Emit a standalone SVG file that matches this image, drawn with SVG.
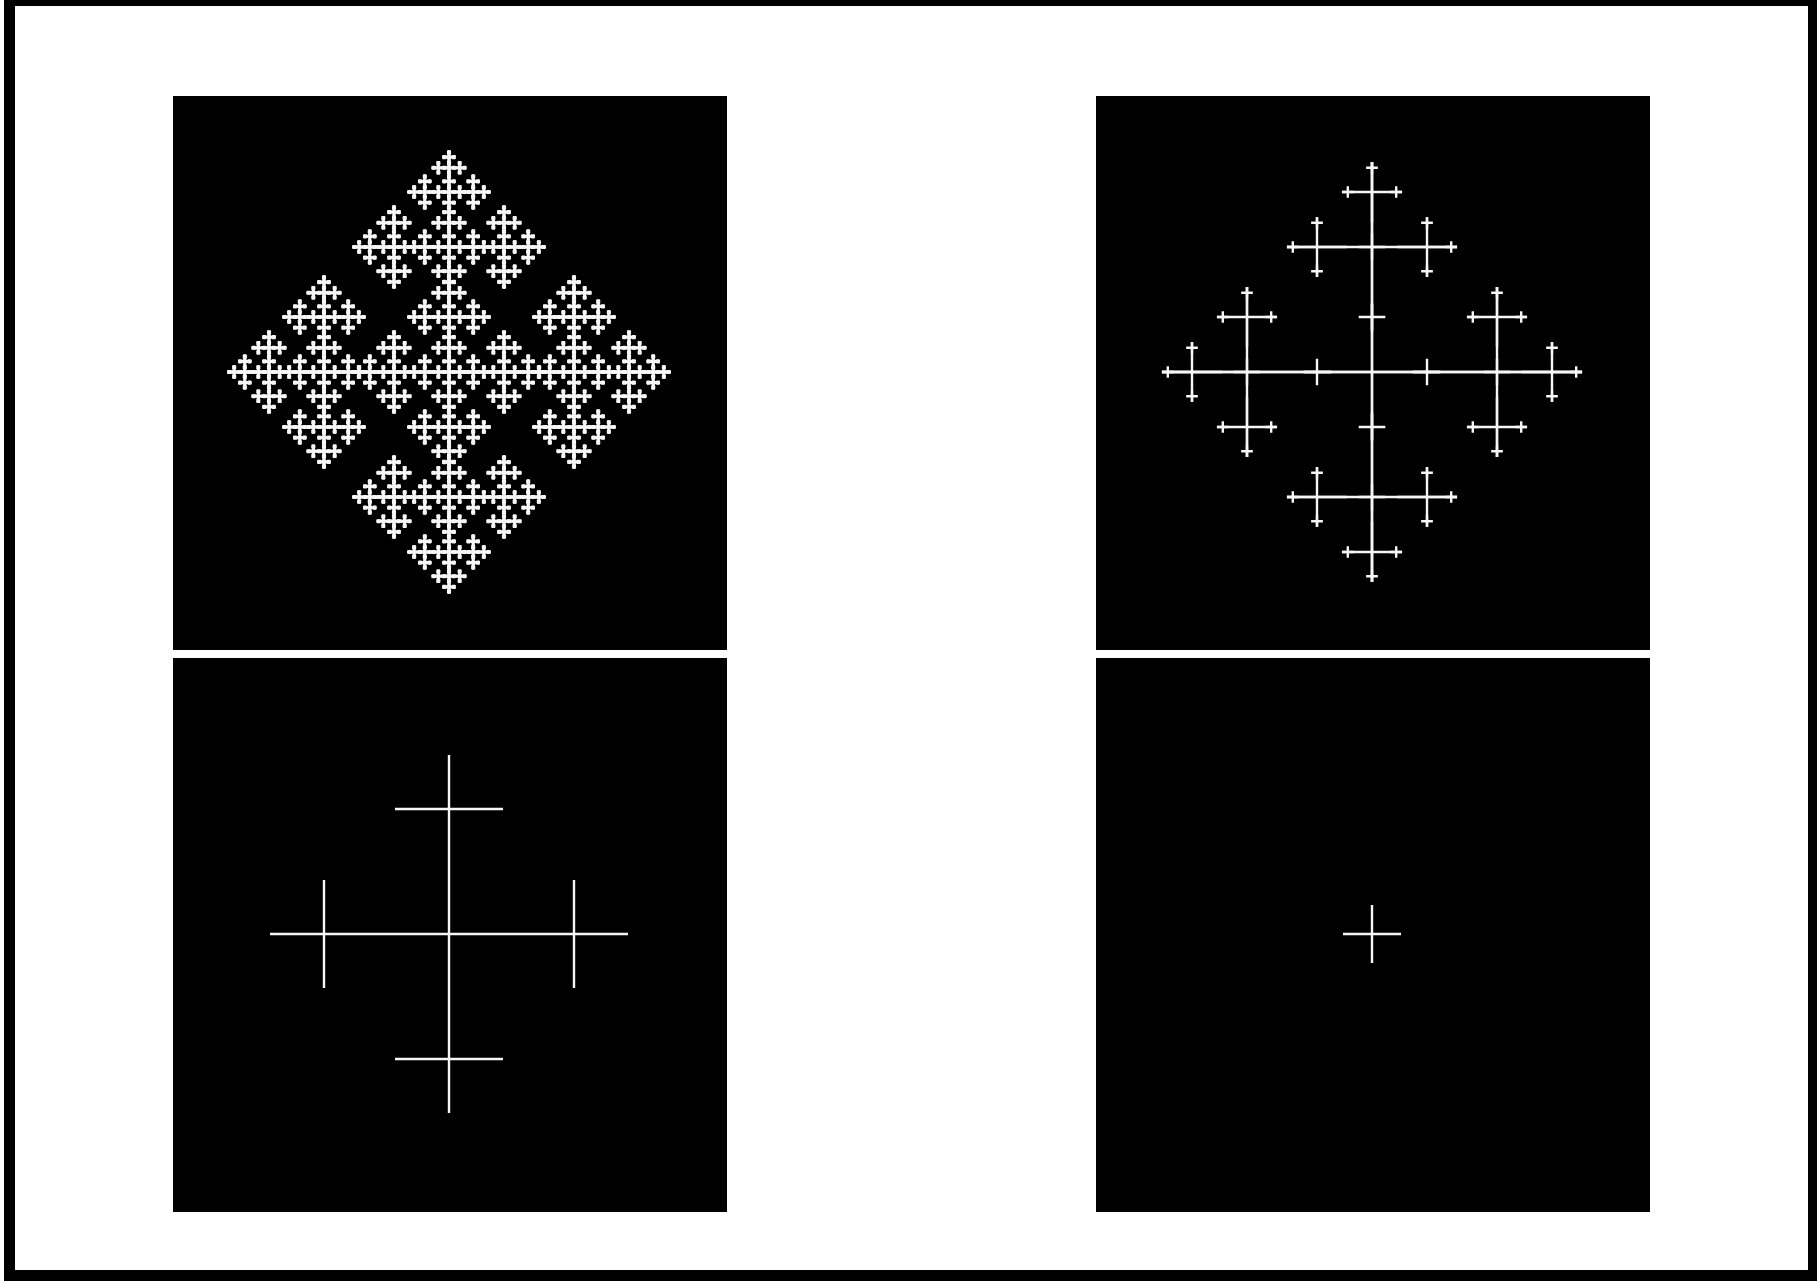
<svg xmlns="http://www.w3.org/2000/svg" width="1817" height="1281" viewBox="0 0 1817 1281">
<style>
.panel{fill:#000}
.art{stroke:#f6f6f6;fill:none;stroke-width:2.4;stroke-linecap:butt}
.blob{stroke-width:3.2}
</style>
<defs>
<!-- level-3 iteration (top right) -->
<path id="r30" d="M-5.86 0H5.86M0-5.86V5.86"/>
<path id="r20" d="M-13.31 0H13.31M0-13.31V13.31"/>
<g id="r21"><path d="M-30.06 0H30.06M0-30.06V30.06"/><use href="#r30" x="24.2"/><use href="#r30" y="-24.2"/><use href="#r30" y="24.2"/></g>
<g id="r11"><path d="M-68.31 0H68.31M0-68.31V68.31"/><use href="#r20" x="55"/><use href="#r20" x="-55"/><use href="#r20" y="55"/><use href="#r20" y="-55"/></g>
<g id="r12"><path d="M-85.06 0H85.06M0-85.06V85.06"/><use href="#r21" x="55"/><use href="#r21" transform="translate(0,-55) rotate(-90)"/><use href="#r21" transform="translate(0,55) rotate(90)"/><use href="#r20"/></g>
<g id="r03"><path d="M-210.06 0H210.06M0-210.06V210.06"/><use href="#r12" x="125"/><use href="#r12" transform="translate(-125,0) rotate(180)"/><use href="#r12" transform="translate(0,-125) rotate(-90)"/><use href="#r12" transform="translate(0,125) rotate(90)"/><use href="#r11"/></g>
<!-- deep iteration (top left) -->
<path id="t5" class="blob" d="M-2.06 0H2.06M0-2.06V2.06"/>
<g id="t41"><path class="blob" d="M-6.75 0H6.75M0-6.75V6.75"/><use href="#t5" x="4.69"/><use href="#t5" y="-4.69"/><use href="#t5" y="4.69"/></g>
<g id="f41"><path class="blob" d="M-6.75 0H6.75M0-6.75V6.75"/><use href="#t5" x="4.69"/><use href="#t5" x="-4.69"/><use href="#t5" y="-4.69"/><use href="#t5" y="4.69"/></g>
<g id="t32"><path d="M-17.39 0H17.39M0-17.39V17.39"/><use href="#t41" x="10.65"/><use href="#t41" transform="translate(0,-10.65) rotate(-90)"/><use href="#t41" transform="translate(0,10.65) rotate(90)"/><use href="#f41"/></g>
<g id="f32"><path d="M-17.39 0H17.39M0-17.39V17.39"/><use href="#t41" x="10.65"/><use href="#t41" transform="translate(-10.65,0) rotate(180)"/><use href="#t41" transform="translate(0,-10.65) rotate(-90)"/><use href="#t41" transform="translate(0,10.65) rotate(90)"/><use href="#f41"/></g>
<g id="t23"><path d="M-41.59 0H41.59M0-41.59V41.59"/><use href="#t32" x="24.2"/><use href="#t32" transform="translate(0,-24.2) rotate(-90)"/><use href="#t32" transform="translate(0,24.2) rotate(90)"/><use href="#f32"/></g>
<g id="f23"><path d="M-41.59 0H41.59M0-41.59V41.59"/><use href="#t32" x="24.2"/><use href="#t32" transform="translate(-24.2,0) rotate(180)"/><use href="#t32" transform="translate(0,-24.2) rotate(-90)"/><use href="#t32" transform="translate(0,24.2) rotate(90)"/><use href="#f32"/></g>
<g id="t14"><path d="M-96.59 0H96.59M0-96.59V96.59"/><use href="#t23" x="55"/><use href="#t23" transform="translate(0,-55) rotate(-90)"/><use href="#t23" transform="translate(0,55) rotate(90)"/><use href="#f23"/></g>
<g id="f14"><path d="M-96.59 0H96.59M0-96.59V96.59"/><use href="#t23" x="55"/><use href="#t23" transform="translate(-55,0) rotate(180)"/><use href="#t23" transform="translate(0,-55) rotate(-90)"/><use href="#t23" transform="translate(0,55) rotate(90)"/><use href="#f23"/></g>
<g id="f05"><path d="M-221.59 0H221.59M0-221.59V221.59"/><use href="#t14" x="125"/><use href="#t14" transform="translate(-125,0) rotate(180)"/><use href="#t14" transform="translate(0,-125) rotate(-90)"/><use href="#t14" transform="translate(0,125) rotate(90)"/><use href="#f14"/></g>
</defs>
<rect width="1817" height="1281" fill="#fff"/>
<path id="frame" fill="#000" fill-rule="evenodd" d="M4 0H1817V1281H4Z M15 6V1270H1808V6Z"/>
<g id="panel-top-left">
<rect class="panel" x="173" y="96" width="554" height="554"/>
<g class="art"><use href="#f05" x="449" y="372"/></g>
</g>
<g id="panel-top-right">
<rect class="panel" x="1096" y="96" width="554" height="554"/>
<g class="art"><use href="#r03" x="1372" y="372"/></g>
</g>
<g id="panel-bottom-left">
<rect class="panel" x="173" y="658" width="554" height="554"/>
<path class="art" d="M270 934H628M449 755V1113M324 880V988M574 880V988M395 809H503M395 1059H503"/>
</g>
<g id="panel-bottom-right">
<rect class="panel" x="1096" y="658" width="554" height="554"/>
<path class="art" d="M1343 934H1401M1372 905V963"/>
</g>
</svg>
